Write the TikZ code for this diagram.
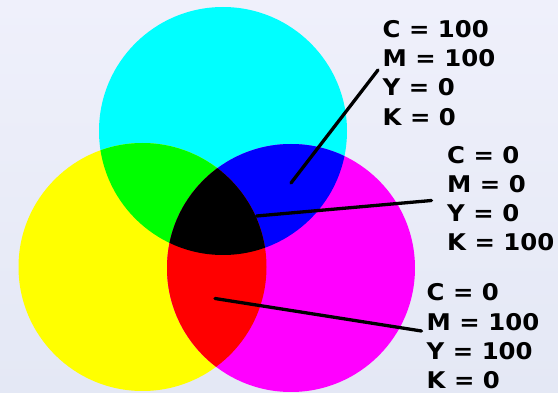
\documentclass[tikz,border=0pt]{standalone}
\usepackage{fontspec}
\newfontfamily\lblfont[FakeStretch=1.06]{DejaVu Sans Bold}
\definecolor{bgtop}{RGB}{239,240,251}
\definecolor{bgbot}{RGB}{228,232,245}
\definecolor{cyanC}{RGB}{0,255,255}
\definecolor{yellowC}{RGB}{255,255,0}
\definecolor{magentaC}{RGB}{255,0,255}
\definecolor{greenC}{RGB}{0,255,0}
\definecolor{blueC}{RGB}{0,0,255}
\definecolor{redC}{RGB}{255,0,0}
\tikzset{
  lbl/.style={anchor=base west, inner sep=0pt, font=\lblfont\fontsize{23}{28}\selectfont},
  pointer/.style={draw=black, line width=3.3pt, line cap=round}
}
\begin{document}
\begin{tikzpicture}[x=1pt,y=-1pt]
\shade[top color=bgtop, bottom color=bgbot] (0,0) rectangle (558,393);
\useasboundingbox (0,0) rectangle (558,393);
\clip (0,0) rectangle (558,393);
\coordinate (cc) at (223,131);
\coordinate (yc) at (142.5,267);
\coordinate (mc) at (291,268);
\def\rr{124pt}
\fill[cyanC] (cc) circle[radius=\rr];
\fill[yellowC] (yc) circle[radius=\rr];
\fill[magentaC] (mc) circle[radius=\rr];
\begin{scope}
  \clip (cc) circle[radius=\rr];
  \fill[greenC] (yc) circle[radius=\rr];
  \fill[blueC] (mc) circle[radius=\rr];
\end{scope}
\begin{scope}
  \clip (yc) circle[radius=\rr];
  \fill[redC] (mc) circle[radius=\rr];
\end{scope}
\begin{scope}
  \clip (cc) circle[radius=\rr];
  \clip (yc) circle[radius=\rr];
  \fill[black] (mc) circle[radius=\rr];
\end{scope}
% labels
\node[lbl] (a1) at (382.5,37.3) {C = 100};
\node[lbl] (a2) at (382.5,66.7) {M = 100};
\node[lbl] (a3) at (382.5,96) {Y = 0};
\node[lbl] (a4) at (382.5,126) {K = 0};
\node[lbl] (b1) at (447,163.3) {C = 0};
\node[lbl] (b2) at (447,192.7) {M = 0};
\node[lbl] (b3) at (447,221.7) {Y = 0};
\node[lbl] (b4) at (447,250.7) {K = 100};
\node[lbl] (c1) at (426.5,300.7) {C = 0};
\node[lbl] (c2) at (426.5,330.7) {M = 100};
\node[lbl] (c3) at (426.5,360) {Y = 100};
\node[lbl] (c4) at (426.5,388.3) {K = 0};
% connectors
\coordinate (p1o) at (378,70);
\coordinate (p1i) at (291,183);
\coordinate (p2o) at (431.5,200.5);
\coordinate (p2i) at (256.5,216);
\coordinate (p3o) at (421.5,331);
\coordinate (p3i) at (215,298.5);
\draw[pointer] (p1o) -- (p1i);
\draw[pointer] (p2o) -- (p2i);
\draw[pointer] (p3o) -- (p3i);
\end{tikzpicture}
\end{document}
